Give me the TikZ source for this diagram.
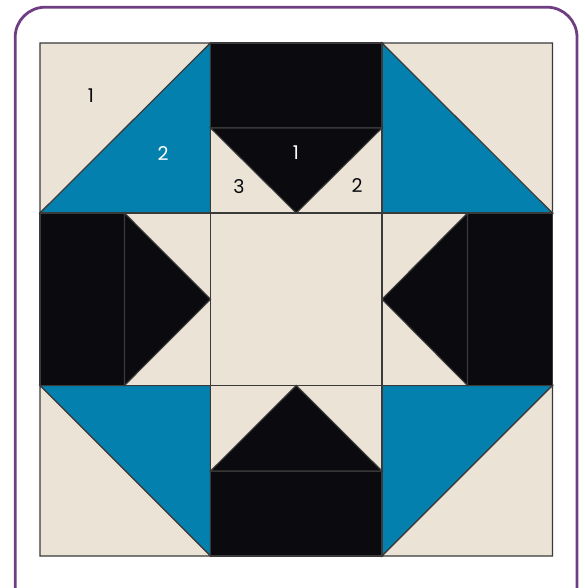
\documentclass[tikz,border=0pt]{standalone}
\usepackage{fontspec}
\setmainfont{Poppins}
\definecolor{cream}{HTML}{EBE4D6}
\definecolor{qblue}{HTML}{0480AE}
\definecolor{qblack}{HTML}{0A0A0F}
\definecolor{frame}{HTML}{6E3D82}
\definecolor{seam}{HTML}{3A3A3A}
\begin{document}
\begin{tikzpicture}[x=1pt,y=-1pt,
  piece/.style={draw=seam,line width=1.1pt,line join=miter},
  lbl/.style={font=\fontsize{19}{19}\selectfont,inner sep=0pt}]
\useasboundingbox (0,0) rectangle (584,588);
\clip (0,0) rectangle (584,588);
\fill[white] (0,0) rectangle (584,588);
\draw[frame,line width=2.8pt,rounded corners=30pt] (15.2,7.2) rectangle (577,620);
% grid coordinates
\def\xa{40}\def\xb{210.5}\def\xc{382}\def\xd{552.5}
\def\ya{43}\def\yb{213}\def\yc{385.5}\def\yd{556}
% corner cells
% top-left
\fill[piece,fill=cream] (\xa,\ya) -- (\xb,\ya) -- (\xa,\yb) -- cycle;
\fill[piece,fill=qblue] (\xb,\ya) -- (\xb,\yb) -- (\xa,\yb) -- cycle;
% top-right
\fill[piece,fill=qblue] (\xc,\ya) -- (\xd,\yb) -- (\xc,\yb) -- cycle;
\fill[piece,fill=cream] (\xc,\ya) -- (\xd,\ya) -- (\xd,\yb) -- cycle;
% bottom-left
\fill[piece,fill=qblue] (\xa,\yc) -- (\xb,\yc) -- (\xb,\yd) -- cycle;
\fill[piece,fill=cream] (\xa,\yc) -- (\xb,\yd) -- (\xa,\yd) -- cycle;
% bottom-right
\fill[piece,fill=qblue] (\xc,\yc) -- (\xd,\yc) -- (\xc,\yd) -- cycle;
\fill[piece,fill=cream] (\xd,\yc) -- (\xd,\yd) -- (\xc,\yd) -- cycle;
% center
\fill[piece,fill=cream] (\xb,\yb) rectangle (\xc,\yc);
% top-middle
\fill[piece,fill=qblack] (\xb,\ya) rectangle (\xc,128);
\fill[piece,fill=cream] (\xb,128) rectangle (\xc,\yb);
\fill[piece,fill=qblack] (\xb,128) -- (\xc,128) -- (296.25,\yb) -- cycle;
% bottom-middle
\fill[piece,fill=qblack] (\xb,471) rectangle (\xc,\yd);
\fill[piece,fill=cream] (\xb,\yc) rectangle (\xc,471);
\fill[piece,fill=qblack] (\xb,471) -- (\xc,471) -- (296.25,\yc) -- cycle;
% middle-left
\fill[piece,fill=qblack] (\xa,\yb) rectangle (124.5,\yc);
\fill[piece,fill=cream] (124.5,\yb) rectangle (\xb,\yc);
\fill[piece,fill=qblack] (124.5,\yb) -- (124.5,\yc) -- (\xb,299.25) -- cycle;
% middle-right
\fill[piece,fill=qblack] (467.5,\yb) rectangle (\xd,\yc);
\fill[piece,fill=cream] (\xc,\yb) rectangle (467.5,\yc);
\fill[piece,fill=qblack] (467.5,\yb) -- (467.5,\yc) -- (\xc,299.25) -- cycle;
% labels
\node[lbl,text=qblack] (l1) at (91,96) {1};
\node[lbl,text=white] (l2) at (163,153.5) {2};
\node[lbl,text=white] (g1) at (296,153) {1};
\node[lbl,text=qblack] (g3) at (239,187) {3};
\node[lbl,text=qblack] (g2) at (357,186) {2};
\end{tikzpicture}
\end{document}
